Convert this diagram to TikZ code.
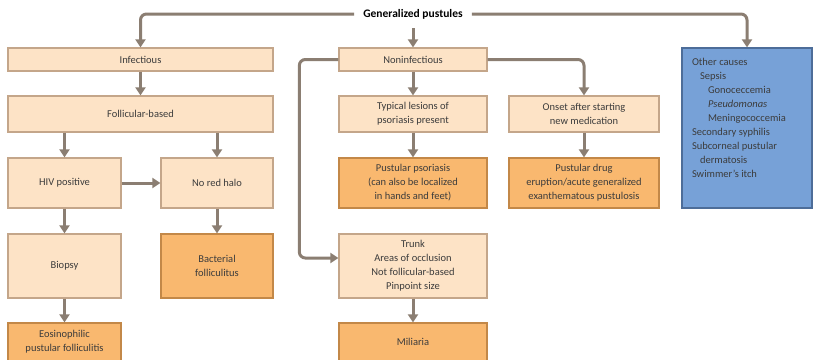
\documentclass[tikz,border=0pt]{standalone}
\usepackage{fontspec}
\setmainfont{Carlito}
\usetikzlibrary{arrows.meta}

\definecolor{litefill}{HTML}{FDE3C6}
\definecolor{litedraw}{HTML}{C4A68A}
\definecolor{darkfill}{HTML}{F9B86F}
\definecolor{darkdraw}{HTML}{C38848}
\definecolor{bluefill}{HTML}{77A1D7}
\definecolor{bluedraw}{HTML}{4D6D99}
\definecolor{conncol}{HTML}{8B7E72}
\definecolor{txt}{HTML}{3C3C3C}

\tikzset{
  box/.style={draw, line width=1.3pt, align=center, inner sep=2pt, text=txt,
    font=\fontsize{10.5}{14}\selectfont},
  lite/.style={box, fill=litefill, draw=litedraw},
  dark/.style={box, fill=darkfill, draw=darkdraw},
  blue/.style={box, fill=bluefill, draw=bluedraw, inner sep=10pt},
  conn/.style={draw=conncol, line width=3pt, rounded corners=6pt,
    -{Triangle[length=8pt,width=10pt]}},
}

\begin{document}
\begin{tikzpicture}[x=1pt,y=-1pt]
  \useasboundingbox (0,0) rectangle (813,359);

  \node[font=\fontsize{11.5}{14}\bfseries, inner sep=9pt] (title) at (413,14) {Generalized pustules};

  \node[lite, minimum width=265pt, minimum height=23pt] (inf) at (140.5,59.5) {Infectious};
  \node[lite, minimum width=265pt, minimum height=36pt] (fol) at (140.5,114) {Follicular-based};
  \node[lite, minimum width=113pt, minimum height=50pt] (hiv) at (64.5,183) {HIV positive};
  \node[lite, minimum width=112pt, minimum height=50pt] (halo) at (217,183) {No red halo};
  \node[lite, minimum width=113pt, minimum height=64pt] (bio) at (64.5,266) {Biopsy};
  \node[dark, minimum width=112pt, minimum height=64pt] (bact) at (217,266) {Bacterial\\folliculitus};
  \node[dark, minimum width=113pt, minimum height=38pt] (eos) at (64.5,342) {Eosinophilic\\pustular folliculitis};

  \node[lite, minimum width=148pt, minimum height=23pt] (non) at (413,59.5) {Noninfectious};
  \node[lite, minimum width=148pt, minimum height=36pt] (typ) at (413,114) {Typical lesions of\\psoriasis present};
  \node[lite, minimum width=150pt, minimum height=36pt] (ons) at (584,114) {Onset after starting\\new medication};
  \node[dark, minimum width=148pt, minimum height=50pt] (pso) at (413,183) {Pustular psoriasis\\(can also be localized\\in hands and feet)};
  \node[dark, minimum width=150pt, minimum height=50pt] (drug) at (584,183) {Pustular drug\\eruption/acute generalized\\exanthematous pustulosis};
  \node[lite, minimum width=148pt, minimum height=64pt] (trunk) at (413,266) {Trunk\\Areas of occlusion\\Not follicular-based\\Pinpoint size};
  \node[dark, minimum width=148pt, minimum height=38pt] (mil) at (413,342) {Miliaria};

  \node[blue] (oth) at (747,128) {\parbox[c][140pt][t]{110pt}{\raggedright
    Other causes\\
    \hspace*{8pt}Sepsis\\
    \hspace*{16pt}Gonoceccemia\\
    \hspace*{16pt}\textit{Pseudomonas}\\
    \hspace*{16pt}Meningococcemia\\
    Secondary syphilis\\
    Subcorneal pustular\\
    \hspace*{8pt}dermatosis\\
    Swimmer's itch}};

  \draw[conn] (title.west) -| (inf.north);
  \draw[conn] (title.south) -- (non.north);
  \draw[conn] (title.east) -| (oth.north);

  \draw[conn] (inf) -- (fol);
  \draw[conn] (fol.south -| hiv.north) -- (hiv.north);
  \draw[conn] (fol.south -| halo.north) -- (halo.north);
  \draw[conn] (hiv) -- (halo);
  \draw[conn] (hiv) -- (bio);
  \draw[conn] (halo) -- (bact);
  \draw[conn] (bio) -- (eos);

  \draw[conn] (non.west) -- ++(-39,0) |- ([yshift=8pt]trunk.west);
  \draw[conn] (non.east) -| (ons.north);
  \draw[conn] (non) -- (typ);
  \draw[conn] (typ) -- (pso);
  \draw[conn] (ons) -- (drug);
  \draw[conn] (trunk) -- (mil);
\end{tikzpicture}
\end{document}
